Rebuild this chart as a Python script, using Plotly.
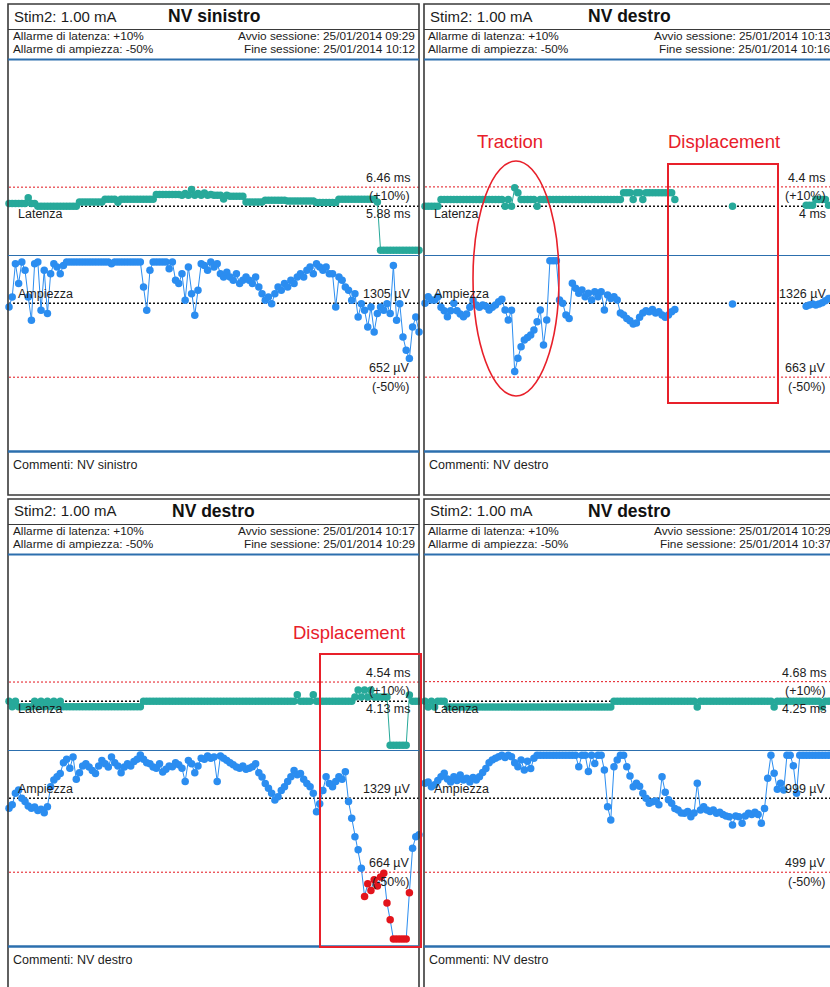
import plotly.graph_objects as go

W, H = 830, 987

# ---------------------------------------------------------------- text data
panel_names = ["NV sinistro", "NV destro", "NV destro", "NV destro"]
stim_text = "Stim2: 1.00 mA"
lat_alarm_setting = "+10%"
amp_alarm_setting = "-50%"
session_start = ["25/01/2014 09:29", "25/01/2014 10:13", "25/01/2014 10:17", "25/01/2014 10:29"]
session_end = ["25/01/2014 10:12", "25/01/2014 10:16", "25/01/2014 10:29", "25/01/2014 10:37"]
comments = ["NV sinistro", "NV destro", "NV destro", "NV destro"]

# baselines and alarm thresholds (latency ms, amplitude uV)
lat_baseline = [5.88, 4.0, 4.13, 4.25]
lat_alarm = [6.46, 4.4, 4.54, 4.68]
amp_baseline = [1305, 1326, 1329, 999]
amp_alarm = [652, 663, 664, 499]

# event notes drawn in red
note_traction = "Traction"
note_displacement = "Displacement"

# ---------------------------------------------------------------- series
# top-left session (NV sinistro)
tl_lat = [5.96, 5.96, 5.96, 5.96, 5.96, 5.96, 6.14, 5.96, 5.96,
          5.88, 5.88, 5.88, 5.88, 5.88, 5.88, 5.88, 5.88, 5.88, 5.88, 5.88, 5.88, 5.88,
          6.01, 6.01, 6.01, 6.01, 6.01, 6.01, 6.01, 6.01,
          6.09, 6.09, 6.09, 6.09, 6.00, 6.09, 6.09, 6.09, 6.09, 6.09, 6.09, 6.09, 6.09, 6.09, 6.09, 6.09,
          6.24, 6.24, 6.24, 6.24, 6.24, 6.24, 6.24, 6.24,
          6.21, 6.27, 6.21, 6.39, 6.21, 6.27, 6.21, 6.28, 6.21, 6.24, 6.21, 6.21, 6.21, 6.10, 6.21,
          6.18, 6.18, 6.18, 6.18, 6.18,
          6.01, 6.01, 6.01, 6.01, 6.01, 6.01,
          6.06, 6.06, 6.06, 6.06, 6.06, 6.06, 6.06,
          6.04, 6.04, 6.04, 6.04, 6.04, 6.04, 6.04, 6.04, 6.04,
          5.99, 5.99, 5.99, 5.99, 5.99, 5.99, 5.99,
          6.09, 6.09, 6.09, 6.09, 6.09, 6.09, 6.09, 6.09, 6.09, 6.09, 6.09, 6.09,
          6.01,
          4.54, 4.54, 4.54, 4.54, 4.54, 4.54, 4.54, 4.54, 4.54, 4.54, 4.54, 4.54, 4.54]
tl_amp = [1273, 1361, 1655, 1479, 1670, 1596, 1361, 1155, 1655, 1670,
          1243, 1596, 1214, 1567, 1655, 1625, 1567, 1640, 1670,
          1670, 1670, 1670, 1670, 1670, 1670, 1670, 1670, 1670, 1670, 1670, 1670, 1670,
          1655,
          1670, 1670, 1670, 1670, 1670, 1670, 1670, 1670, 1670,
          1449, 1243, 1596,
          1670, 1670, 1670, 1670, 1670,
          1610, 1670, 1508, 1479, 1567,
          1331, 1625, 1390, 1199, 1420, 1655, 1640, 1596, 1670, 1625,
          1655, 1567, 1537, 1580, 1537, 1508, 1567, 1479, 1508, 1537,
          1508, 1479, 1537, 1449, 1390, 1331, 1361, 1302, 1390, 1449,
          1420, 1479, 1449, 1508, 1479, 1537, 1567, 1537, 1596, 1625,
          1567, 1655, 1625, 1596, 1625, 1567, 1567, 1273, 1537, 1508,
          1449, 1420, 1331, 1390, 1184, 1302, 1243, 1096, 1273, 1052,
          1214, 1273, 1243, 1302, 1214, 1640, 1155, 1302, 1008, 890,
          817, 1096, 1184, 1052]

# top-right session (NV destro, traction / displacement)
tr_lat = [4.00, 4.00, 4.00, 4.00, 4.00,
          4.14, 4.14, 4.14, 4.14, 4.14, 4.14, 4.14, 4.14, 4.14, 4.14,
          4.14, 4.14, 4.14, 4.14, 4.14, 4.14, 4.14, 4.14, 4.14, 4.14,
          4.00, 4.14, 4.00, 4.38, 4.28,
          4.14, 4.14, 4.14, 4.14, 4.14, 4.00,
          4.14, 4.14, 4.14, 4.14, 4.14, 4.14, 4.14, 4.14, 4.14, 4.14, 4.14, 4.14, 4.14,
          4.14, 4.14, 4.14, 4.14, 4.14, 4.14, 4.14, 4.14, 4.14, 4.14, 4.14, 4.14, 4.14,
          4.28, 4.28, 4.28, 4.14, 4.28, 4.28, 4.14,
          4.28, 4.28, 4.28, 4.28, 4.28, 4.28, 4.28, 4.28, 4.28, 4.14,
          None, None, None, None, None, None, None, None, None, None, None, None, None, None, None, None, None,
          4.00,
          None, None, None, None, None, None, None, None, None, None, None,
          None, None, None, None, None, None, None, None, None, None, None,
          4.02, 4.02, 4.02, 4.14, 4.14, 4.14, 4.14, 4.02, 4.14, 4.14]
tr_amp = [1327, 1385, 1356, 1356, 1385,
          1290, 1260, 1206, 1260, 1326, 1260, 1230, 1206, 1230, 1290,
          1356, 1310, 1290, 1310, 1300, 1266, 1290, 1310, 1340, 1362,
          1266, 1176, 1263, 713, 833, 937, 997, 1020, 1042, 1087,
          1161, 1266, 952, 1176, 1708, 1708, 1708,
          1356, 1326, 1220, 1190, 1505, 1460, 1416, 1445, 1385, 1416,
          1356, 1430, 1385, 1430, 1266, 1400, 1370, 1385, 1356, 1240,
          1220, 1190, 1170, 1140, 1150, 1200, 1240, 1260, 1250, 1270,
          1240, 1250, 1220, 1200, 1220, 1250, 1270,
          None, None, None, None, None, None, None, None, None, None, None, None, None, None, None, None, None,
          1320,
          None, None, None, None, None, None, None, None, None, None, None,
          None, None, None, None, None, None, None, None, None, None, None,
          1300, 1310, 1320, 1310, 1320, 1330, 1350, 1370, 1385, 1385]

# bottom-left session (NV destro, displacement)
bl_lat = [4.13, 4.01, 4.13, 4.01, 4.01, 4.01, 4.01, 4.01,
          4.13, 4.01, 4.13, 4.01, 4.13, 4.01, 4.13, 4.01, 4.13,
          4.01, 4.01, 4.01, 4.01, 4.01, 4.01, 4.01, 4.01, 4.01, 4.01, 4.01, 4.01, 4.01,
          4.01, 4.01, 4.01, 4.01, 4.01, 4.01, 4.01, 4.01, 4.01, 4.01, 4.01, 4.01,
          4.13, 4.13, 4.13, 4.13, 4.13, 4.13, 4.13, 4.13, 4.13, 4.13, 4.13, 4.13,
          4.13, 4.13, 4.13, 4.13, 4.13, 4.13, 4.13, 4.13, 4.13, 4.13, 4.13, 4.13,
          4.13, 4.13, 4.13, 4.13, 4.13, 4.13, 4.13, 4.13, 4.13, 4.13, 4.13, 4.13,
          4.13, 4.13, 4.13, 4.13, 4.13, 4.13, 4.13, 4.13, 4.13, 4.13, 4.13, 4.13,
          4.27, 4.13, 4.13, 4.13, 4.13, 4.27,
          4.13, 4.13, 4.13, 4.13, 4.13, 4.13, 4.13, 4.13, 4.13, 4.13, 4.13, 4.13,
          4.22, 4.37, 4.22, 4.37, 4.22, 4.37, 4.22, 4.22, 4.22, 4.22, 4.22,
          3.19, 3.19, 3.19, 3.19, 3.19, 3.19,
          4.26, 4.13, 4.13, 4.13]
bl_amp = [1240, 1270, 1374, 1403, 1330, 1300, 1260, 1240, 1250, 1220,
          1230, 1200, 1254, 1433, 1493, 1523, 1553, 1650, 1680, 1600,
          1700, 1500, 1560, 1620, 1640, 1610, 1580, 1553, 1620, 1670,
          1640, 1610, 1700, 1650, 1620, 1560, 1610, 1640, 1620, 1660,
          1680, 1718, 1680, 1650, 1640, 1610, 1600, 1640, 1565, 1590,
          1620, 1613, 1650, 1630, 1600, 1480, 1670, 1640, 1560, 1620,
          1690, 1680, 1710, 1690, 1700, 1480, 1710, 1690, 1670, 1650,
          1630, 1610, 1600, 1620, 1590, 1600, 1613, 1640, 1560, 1520,
          1463, 1420, 1374, 1314, 1343, 1400, 1433, 1480, 1523, 1580,
          1540, 1553, 1500, 1463, 1433, 1374, 1209, 1280, 1400, 1523,
          1463, 1433, 1480, 1523, 1500, 1568, 1300, 1150, 984, 865,
          700, 445, 560, 500, 595, 540, 620, 655, 386, 236,
          63, 63, 63, 63, 63, 480, 880, 984, 1000]

# bottom-right session (NV destro)
br_lat = [4.25, 4.12, 4.25, 4.12, 4.25, 4.25, 4.25, 4.12,
          4.12, 4.12, 4.12, 4.12, 4.12, 4.12, 4.12, 4.12, 4.12, 4.12, 4.12, 4.12, 4.12,
          4.12, 4.12, 4.12, 4.12, 4.12, 4.12, 4.12, 4.12, 4.12, 4.12, 4.12, 4.12, 4.12,
          4.12, 4.12, 4.12, 4.12, 4.12, 4.12, 4.12, 4.12, 4.12, 4.12, 4.12, 4.12, 4.12,
          4.12, 4.12, 4.12, 4.12, 4.12, 4.12, 4.12, 4.12, 4.12, 4.12, 4.12, 4.12,
          4.25, 4.25, 4.25, 4.25, 4.25, 4.25, 4.25, 4.25, 4.25, 4.25, 4.25, 4.25, 4.25,
          4.25, 4.25, 4.25, 4.25, 4.25, 4.25, 4.25, 4.25, 4.25, 4.25, 4.25, 4.25, 4.25,
          4.12,
          4.25, 4.25, 4.25, 4.25, 4.25, 4.25, 4.25, 4.25, 4.25, 4.25, 4.25, 4.25,
          4.25, 4.25, 4.25, 4.25, 4.25, 4.25, 4.25, 4.25, 4.25, 4.25, 4.25,
          4.12,
          4.25, 4.25, 4.25, 4.25, 4.25, 4.25, 4.25, 4.25, 4.25, 4.25, 4.25, 4.25, 4.25, 4.25,
          4.12, 4.25, 4.25, 4.25, 4.25]
br_amp = [1100, 1110, 1077, 1090, 1120, 1145, 1168, 1130, 1110, 1145,
          1120, 1157, 1123, 1135, 1110, 1140, 1123, 1145, 1174, 1200,
          1240, 1258, 1270, 1280, 1291, 1275, 1291, 1280, 1240, 1212,
          1258, 1190, 1250, 1200, 1270,
          1291, 1291, 1291, 1291, 1291, 1291, 1291, 1291, 1291, 1291, 1291, 1291, 1291,
          1212, 1291, 1291, 1180, 1291, 1235, 1291, 1291, 1190, 942,
          853, 1212, 1258, 1291, 1291, 1212, 1150, 1077, 1100, 1080,
          1033, 999, 965, 975, 980, 955, 1145, 1040, 990, 965,
          930, 920, 900, 898, 910, 875, 900, 1100, 920, 942,
          920, 910, 920, 898, 905, 890, 880, 875, 819, 880,
          875, 830, 880, 898, 890, 905, 890, 830, 930, 1135,
          1291, 1168, 1060, 1100, 1055, 1291, 1291, 1220, 1033, 1291,
          1291, 1291, 1291, 1291, 1291, 1291, 1291, 1291, 1291, 1291, 1291]

lat_series = [tl_lat, tr_lat, bl_lat, br_lat]
amp_series = [tl_amp, tr_amp, bl_amp, br_amp]

# ---------------------------------------------------------------- styling / layout
FONT = "Liberation Sans, Arial, Helvetica, sans-serif"
TEAL = "#27a99a"
BLUE = "#2b8df0"
ALARM_RED = "#e3141c"
NOTE_RED = "#e8202a"
FRAME = "#3a3a3a"
RULE_BLUE = "#2c6fae"
TXT = "#1c1c1c"

COL_LEFT = [8, 424]      # frame left edge of each column (px)
PANEL_W = 411
ROW_OFF = [0, 495]
LAT_TOP, LAT_BOT = 60, 255
AMP_TOP, AMP_BOT = 256, 451
LAT_BASE_Y = 206.2
LAT_PX_PER_PCT = 1.93
AMP_BASE_Y = 303.3
MARK = 7.5


def px(x):
    return x / W


def py(y):
    return 1 - y / H


def axkey(n, letter):
    return f"{letter}axis" if n == 1 else f"{letter}axis{n}"


def axref(n, letter):
    return letter if n == 1 else f"{letter}{n}"


fig = go.Figure()
shapes = []
annotations = []
layout_axes = {}


def text(x, y, s, size=12.5, anchor="left", color=TXT, yref="paper", yshift=0):
    annotations.append(dict(
        x=x, y=y, xref="paper", yref=yref, text=s, showarrow=False,
        xanchor=anchor, yanchor="middle", yshift=yshift, borderpad=0,
        font=dict(family=FONT, size=size, color=color)))


def hline(y, x0, x1, color, width, yref="paper", dash="solid", layer="above"):
    shapes.append(dict(type="line", xref="paper", yref=yref, x0=x0, x1=x1, y0=y, y1=y,
                       line=dict(color=color, width=width, dash=dash), layer=layer))


for k in range(4):
    col, row = k % 2, k // 2
    L = COL_LEFT[col]
    T = ROW_OFF[row]
    R = L + PANEL_W
    lb, la = lat_baseline[k], lat_alarm[k]
    ab, aa = amp_baseline[k], amp_alarm[k]

    # frame and rules
    shapes.append(dict(type="rect", xref="paper", yref="paper",
                       x0=px(L), x1=px(R), y0=py(T + 4), y1=py(T + 495),
                       line=dict(color=FRAME, width=1.6), layer="above"))
    hline(py(T + 29.5), px(L), px(R), FRAME, 1.2)
    hline(py(T + 59.5), px(L), px(R), RULE_BLUE, 2.2)
    hline(py(T + 255.5), px(L), px(R), RULE_BLUE, 1.1)
    hline(py(T + 451.5), px(L), px(R), RULE_BLUE, 2.6)

    # header / footer texts
    text(px(L + 5), py(T + 16), stim_text, size=15)
    text(px(L + PANEL_W / 2), py(T + 16), f"<b>{panel_names[k]}</b>", size=17.5, anchor="center", color="#111")
    text(px(L + 3.5), py(T + 36.2), f"Allarme di latenza: {lat_alarm_setting}", size=11.8)
    text(px(L + 3.5), py(T + 49.4), f"Allarme di ampiezza: {amp_alarm_setting}", size=11.8)
    text(px(L + 408), py(T + 36.2), f"Avvio sessione: {session_start[k]}", anchor="right", size=11.8)
    text(px(L + 408), py(T + 49.4), f"Fine sessione: {session_end[k]}", anchor="right", size=11.8)
    text(px(L + 4), py(T + 465), f"Commenti: {comments[k]}")

    # axes
    n_lat, n_amp = 2 * k + 1, 2 * k + 2
    x_left, x_right = L + 1, R
    vis_right = min(x_right, W)
    for n, series in ((n_lat, lat_series[k]), (n_amp, amp_series[k])):
        last = len(series) - 1
        layout_axes[axkey(n, "x")] = dict(
            domain=[px(x_left), px(vis_right)],
            range=[0, last * (vis_right - x_left) / (x_right - x_left)],
            visible=False, anchor=axref(n, "y"))
    lat_lo = lb * (1 - (LAT_BOT - LAT_BASE_Y) / (100 * LAT_PX_PER_PCT))
    lat_hi = lb * (1 + (LAT_BASE_Y - LAT_TOP) / (100 * LAT_PX_PER_PCT))
    layout_axes[axkey(n_lat, "y")] = dict(
        domain=[py(T + LAT_BOT), py(T + LAT_TOP)], range=[lat_lo, lat_hi],
        visible=False, anchor=axref(n_lat, "x"))
    layout_axes[axkey(n_amp, "y")] = dict(
        domain=[py(T + AMP_BOT), py(T + AMP_TOP)],
        range=[0, ab * (AMP_BOT - AMP_TOP) / (AMP_BOT - AMP_BASE_Y)],
        visible=False, anchor=axref(n_amp, "x"))

    # baseline (black) and alarm (red) dotted references
    yl, ya = axref(n_lat, "y"), axref(n_amp, "y")
    hline(lb, px(x_left), px(x_right), "#111", 1.6, yref=yl, dash="2px,2px", layer="below")
    hline(la, px(x_left), px(x_right), ALARM_RED, 1.0, yref=yl, dash="2px,2px", layer="below")
    hline(ab, px(x_left), px(x_right), "#111", 1.6, yref=ya, dash="2px,2px", layer="below")
    hline(aa, px(x_left), px(x_right), ALARM_RED, 1.0, yref=ya, dash="2px,2px", layer="below")

    # labels attached to the reference lines
    xr = px(L + 403)
    text(px(L + 9), lb, "Latenza", yref=yl, yshift=-8)
    text(xr, la, f"{la:g} ms", anchor="right", yref=yl, yshift=9)
    text(xr, la, f"({lat_alarm_setting})", anchor="right", yref=yl, yshift=-9)
    text(xr, lb, f"{lb:g} ms", anchor="right", yref=yl, yshift=-8)
    text(px(L + 9), ab, "Ampiezza", yref=ya, yshift=9)
    text(xr, ab, f"{ab} µV", anchor="right", yref=ya, yshift=9)
    text(xr, aa, f"{aa} µV", anchor="right", yref=ya, yshift=9)
    text(xr, aa, f"({amp_alarm_setting})", anchor="right", yref=ya, yshift=-10)

    # data traces
    lat = lat_series[k]
    amp = amp_series[k]
    fig.add_trace(go.Scatter(
        x=list(range(len(lat))), y=lat, xaxis=axref(n_lat, "x"), yaxis=yl,
        mode="lines+markers", connectgaps=False, cliponaxis=False,
        line=dict(color=TEAL, width=1), marker=dict(color=TEAL, size=MARK),
        hoverinfo="skip"))
    amp_colors = [ALARM_RED if (v is not None and v < aa) else BLUE for v in amp]
    fig.add_trace(go.Scatter(
        x=list(range(len(amp))), y=amp, xaxis=axref(n_amp, "x"), yaxis=ya,
        mode="lines+markers", connectgaps=False, cliponaxis=False,
        line=dict(color=BLUE, width=1), marker=dict(color=amp_colors, size=MARK),
        hoverinfo="skip"))

# event annotations (traction / displacement)
shapes.append(dict(type="circle", xref="paper", yref="paper",
                   x0=px(473), x1=px(559), y0=py(161), y1=py(396),
                   line=dict(color=NOTE_RED, width=1.6)))
shapes.append(dict(type="rect", xref="paper", yref="paper",
                   x0=px(668), x1=px(778), y0=py(164), y1=py(403),
                   line=dict(color=NOTE_RED, width=2)))
shapes.append(dict(type="rect", xref="paper", yref="paper",
                   x0=px(320), x1=px(421), y0=py(654), y1=py(947),
                   line=dict(color=NOTE_RED, width=2)))
text(px(509.5), py(141.5), note_traction, size=18.5, anchor="center", color=NOTE_RED)
text(px(723.5), py(141.5), note_displacement, size=18.5, anchor="center", color=NOTE_RED)
text(px(348.5), py(632), note_displacement, size=18.5, anchor="center", color=NOTE_RED)

fig.update_layout(
    width=W, height=H, margin=dict(l=0, r=0, t=0, b=0),
    paper_bgcolor="white", plot_bgcolor="rgba(0,0,0,0)",
    showlegend=False, shapes=shapes, annotations=annotations,
    hovermode=False, **layout_axes)

fig.write_html("out.html")
